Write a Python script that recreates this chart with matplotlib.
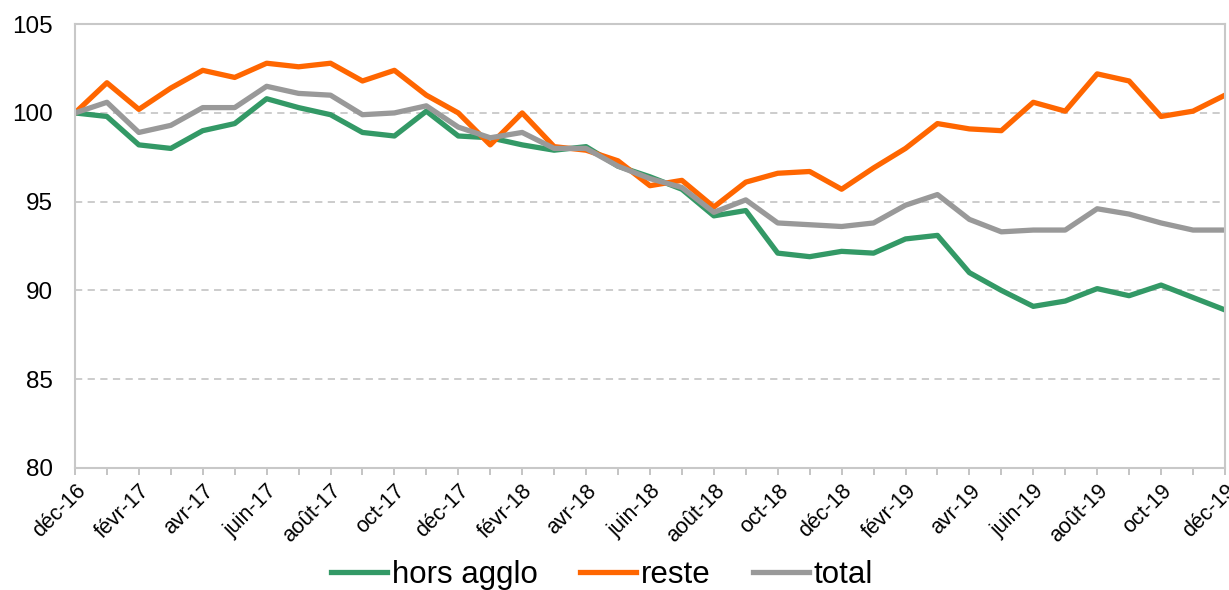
import numpy as np
import matplotlib.pyplot as plt

plt.rcParams["font.family"] = ["Liberation Sans", "DejaVu Sans"]

month_names = ["janv", "févr", "mars", "avr", "mai", "juin", "juil",
               "août", "sept", "oct", "nov", "déc"]
dates = ["déc-16"] + [f"{m}-{y}" for y in (17, 18, 19) for m in month_names]

hors_agglo = [100.0, 99.8, 98.2, 98.0, 99.0, 99.4, 100.8, 100.3, 99.9, 98.9,
              98.7, 100.1, 98.7, 98.6, 98.2, 97.9, 98.1, 97.0, 96.4, 95.7,
              94.2, 94.5, 92.1, 91.9, 92.2, 92.1, 92.9, 93.1, 91.0, 90.0,
              89.1, 89.4, 90.1, 89.7, 90.3, 89.6, 88.9]
reste = [100.0, 101.7, 100.2, 101.4, 102.4, 102.0, 102.8, 102.6, 102.8, 101.8,
         102.4, 101.0, 100.0, 98.2, 100.0, 98.1, 97.9, 97.3, 95.9, 96.2,
         94.7, 96.1, 96.6, 96.7, 95.7, 96.9, 98.0, 99.4, 99.1, 99.0,
         100.6, 100.1, 102.2, 101.8, 99.8, 100.1, 101.0]
total = [100.0, 100.6, 98.9, 99.3, 100.3, 100.3, 101.5, 101.1, 101.0, 99.9,
         100.0, 100.4, 99.2, 98.6, 98.9, 98.0, 98.0, 97.0, 96.3, 95.8,
         94.4, 95.1, 93.8, 93.7, 93.6, 93.8, 94.8, 95.4, 94.0, 93.3,
         93.4, 93.4, 94.6, 94.3, 93.8, 93.4, 93.4]

x = np.arange(len(dates))

fig = plt.figure(figsize=(12.29, 5.90), dpi=100)
ax = fig.add_axes([0.061, 0.207, 0.9357, 0.752])

ax.plot(x, hors_agglo, color="#339966", lw=3.8, label="hors agglo")
ax.plot(x, reste, color="#ff6600", lw=3.8, label="reste")
ax.plot(x, total, color="#999999", lw=3.8, label="total")

ax.set_xlim(0, len(dates) - 1)
ax.set_ylim(80, 105)
ax.set_yticks([80, 85, 90, 95, 100, 105])
for v in [85, 90, 95, 100]:
    ax.axhline(v, color="#c8c8c8", lw=1.3, ls=(0, (4, 3)), zorder=0)

ax.set_xticks(x, minor=True)
ax.set_xticks(x[::2])
ax.set_xticklabels(dates[::2], rotation=45, ha="right", rotation_mode="anchor")
ax.tick_params(axis="x", which="both", length=5, color="#bfbfbf", width=1.3)
ax.tick_params(axis="x", labelsize=15.5, pad=4)
ax.tick_params(axis="y", length=0, labelsize=17.5, pad=16)

for s in ax.spines.values():
    s.set_color("#c8c8c8")
    s.set_linewidth(1.5)

# légende en bas, comme dans le graphique d'origine
fig.legend(loc="upper center", bbox_to_anchor=(0.49, 0.072), ncol=3,
           frameon=False, fontsize=22.5, handlelength=1.8, columnspacing=1.35,
           handletextpad=0.15, borderaxespad=0)

fig.savefig("out.png", dpi=100)
